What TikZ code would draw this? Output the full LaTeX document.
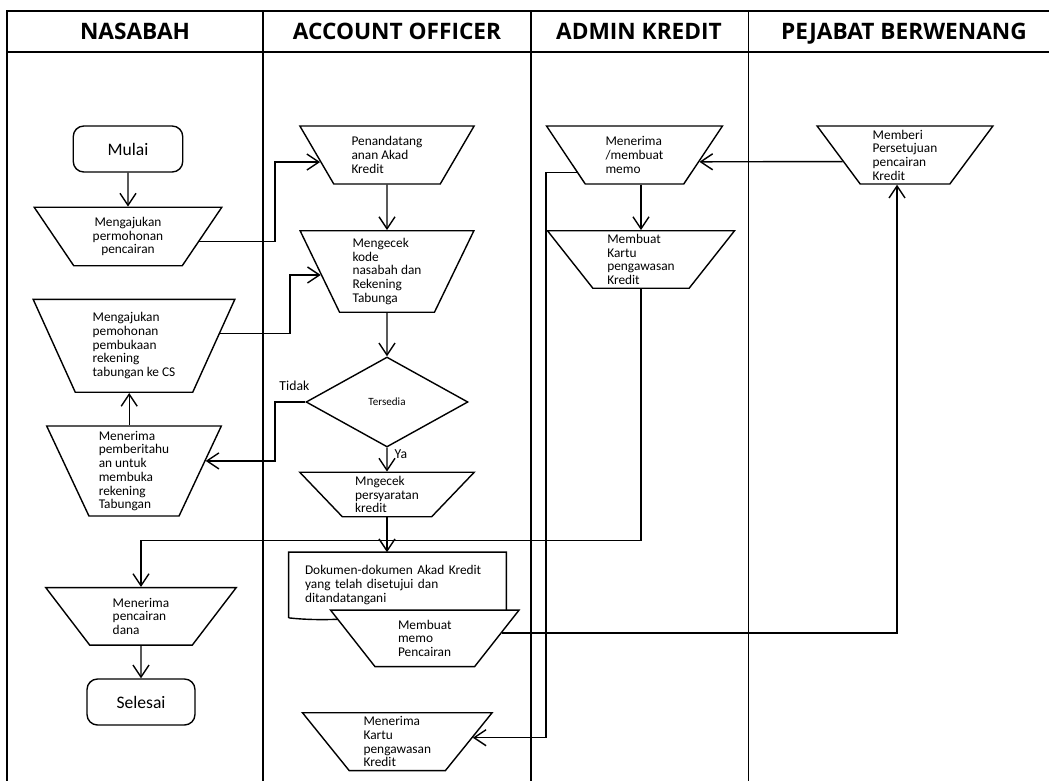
\documentclass[tikz,border=0pt]{standalone}
\usepackage{fontspec}
\setmainfont{Carlito}
\newfontfamily\headfont{Open Sans}
\usetikzlibrary{shapes.geometric,arrows.meta}

\begin{document}
\begin{tikzpicture}[x=0.02cm, y=-0.02cm,
    lane/.style={line width=1.1pt},
    head/.style={anchor=base, font=\headfont\bfseries\fontsize{12.9}{14}\selectfont},
    proc/.style={trapezium, draw, fill=white, line width=0.8pt, shape border rotate=180,
        trapezium stretches=true, inner sep=0.5pt, align=left, font=\fontsize{7.6}{7.8}\selectfont},
    term/.style={draw, line width=0.8pt, rounded corners=6pt, inner sep=0pt, font=\fontsize{10}{12}\selectfont},
    arr/.style={line width=0.8pt, -{Straight Barb[length=2.4mm,width=3.2mm]}},
    lbl/.style={font=\fontsize{7.8}{9}\selectfont, inner sep=1pt}
]
\useasboundingbox (0,0) rectangle (1049,781);
\draw[lane] (1049,11) -- (7,11) -- (7,781);
\draw[lane] (7,52) -- (1049,52);
\draw[lane] (263,11) -- (263,781);
\draw[lane] (531,11) -- (531,781);
\draw[lane] (748.5,11) -- (748.5,781);

\node[head] (hnasabah) at (135,39.5) {NASABAH};
\node[head] (hao) at (397,39.5) {ACCOUNT OFFICER};
\node[head] (hadmin) at (639,39.5) {ADMIN KREDIT};
\node[head] (hpejabat) at (904,39.5) {PEJABAT BERWENANG};

\node[term, minimum width=2.19cm, minimum height=0.92cm] (mulai) at (128,149) {Mulai};
\node[proc, align=center, trapezium angle=57, minimum width=3.77cm, minimum height=1.17cm] (ajukan) at (128,236.5) {Mengajukan\\permohonan\\pencairan};
\node[proc, trapezium angle=66, minimum width=4.07cm, minimum height=1.86cm] (buka) at (134,345.8) {Mengajukan\\pemohonan\\pembukaan\\rekening\\tabungan ke CS};
\node[proc, trapezium angle=67.5, minimum width=3.51cm, minimum height=1.8cm] (info) at (134,471) {Menerima\\pemberitahu\\an untuk\\membuka\\rekening\\Tabungan};
\node[proc, trapezium angle=57, minimum width=3.82cm, minimum height=1.15cm] (dana) at (141,616.4) {Menerima\\pencairan\\dana};
\node[term, minimum width=2.16cm, minimum height=0.92cm] (selesai) at (141,702) {Selesai};

\node[proc, trapezium angle=59, minimum width=3.5cm, minimum height=1.16cm] (tanda) at (387,155) {Penandatang\\anan Akad\\Kredit};
\node[proc, trapezium angle=66.7, minimum width=3.5cm, minimum height=1.63cm] (cek) at (387,271.5) {Mengecek\\kode\\nasabah dan\\Rekening\\Tabunga};
\node[diamond, draw, line width=0.8pt, aspect=1.8, minimum width=3.24cm, minimum height=1.8cm, inner sep=0pt, font=\fontsize{6.3}{7}\selectfont] (tersedia) at (387,402) {Tersedia};
\node[proc, trapezium angle=51, minimum width=3.5cm, minimum height=0.89cm] (syarat) at (387,494.5) {Mngecek\\persyaratan\\kredit};
\node[minimum width=4.34cm, minimum height=1.3cm, text width=3.7cm, align=left, inner sep=0pt, font=\fontsize{7.6}{7.8}\selectfont] (dok) at (397.5,585) {Dokumen-dokumen Akad Kredit\\yang telah disetujui dan\\ditandatangani};
\draw[line width=0.8pt] (dok.south west) -- (dok.north west) -- (dok.north east) -- (dok.south east)
    .. controls +(-70,-15) and +(70,8) .. (dok.south west);
\node[proc, trapezium angle=57.4, minimum width=3.77cm, minimum height=1.13cm] (memo) at (424.8,638.4) {Membuat\\memo\\Pencairan};
\node[proc, trapezium angle=57.1, minimum width=3.81cm, minimum height=1.16cm] (terima) at (397.3,741.7) {Menerima\\Kartu\\pengawasan\\Kredit};

\node[proc, trapezium angle=58.6, minimum width=3.54cm, minimum height=1.16cm] (buatmemo) at (634.5,155) {Menerima\\/membuat\\memo};
\node[proc, trapezium angle=58, minimum width=3.76cm, minimum height=1.15cm] (kartu) at (641,259.5) {Membuat\\Kartu\\pengawasan\\Kredit};

\node[proc, trapezium angle=58.6, minimum width=3.52cm, minimum height=1.16cm] (setuju) at (905,155) {Memberi\\Persetujuan\\pencairan\\Kredit};

\draw[arr] (mulai) -- (ajukan);
\draw[arr] (ajukan.-4) -| (275,200) |- (tanda.186);
\draw[arr] (buka.8) -| (290,300) |- (cek.183);
\draw[arr] (info.96) -- (info.96 |- buka.270);
\draw[arr] (tanda) -- (cek);
\draw[arr] (cek) -- (tersedia);
\draw[arr] (tersedia) -- node[lbl, right=3pt, pos=0.25] (ya) {Ya} (syarat);
\draw[arr] (tersedia.west) -| node[lbl, above=5pt, pos=0.18] (tidak) {Tidak} (275,430) |- (info.8);
\draw[arr] (syarat.270) -- (syarat.270 |- dok.north);
\draw[arr] (kartu.270) |- (300,540.7) -| (dana.90);
\draw[arr] (buatmemo.197) -| (546,400) |- (terima.3);
\draw[arr] (setuju.186) -- (buatmemo.-6);
\draw[arr] (buatmemo.270 -| kartu.90) -- (kartu.90);
\draw[arr] (memo.4) -| (setuju.255);
\draw[arr] (dana) -- (selesai);
\end{tikzpicture}
\end{document}
